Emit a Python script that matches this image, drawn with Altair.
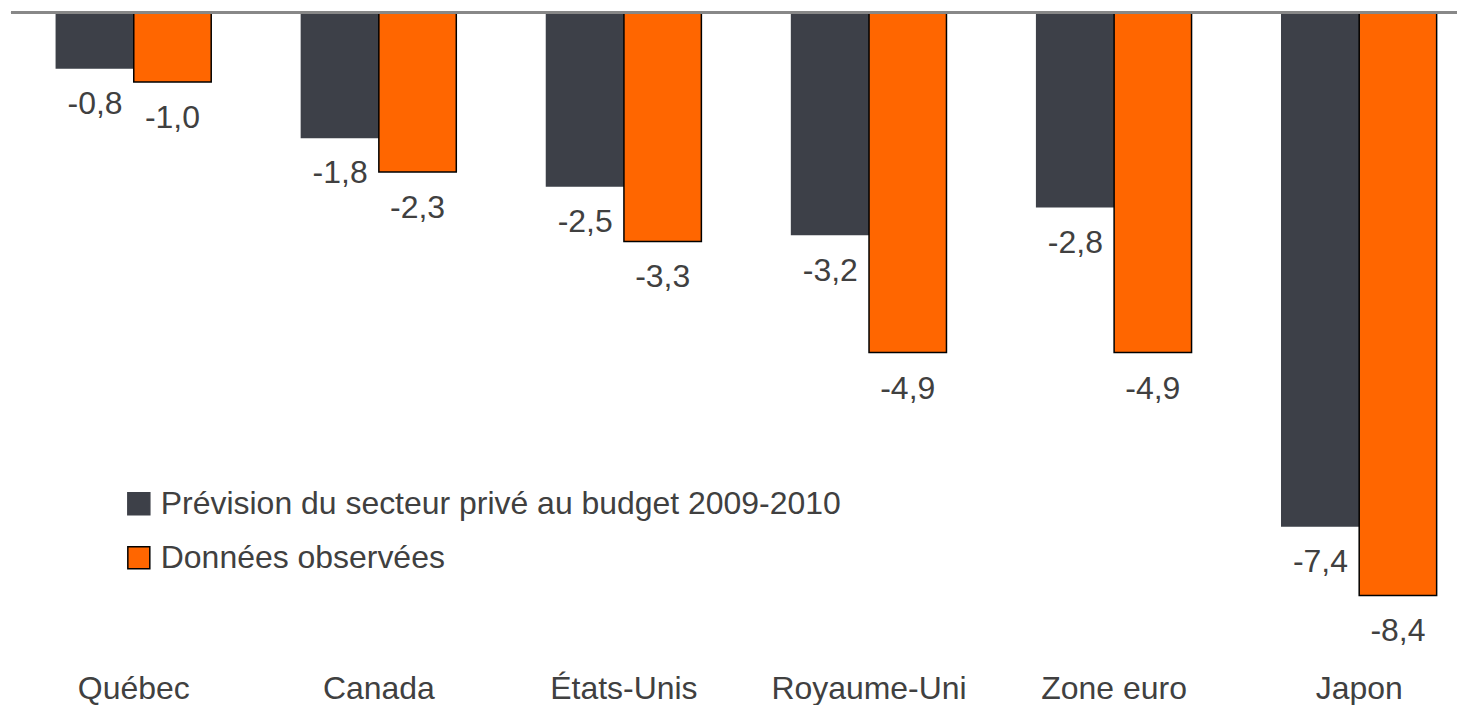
import altair as alt
import pandas as pd

categories = ["Québec", "Canada", "États-Unis", "Royaume-Uni", "Zone euro", "Japon"]
prevision = [-0.8, -1.8, -2.5, -3.2, -2.8, -7.4]
observees = [-1.0, -2.3, -3.3, -4.9, -4.9, -8.4]
series = ["Prévision du secteur privé au budget 2009-2010", "Données observées"]
fill_colors = ["#3D4048", "#FF6600"]
stroke_colors = ["#3D4048", "#000000"]

rows = []
for c, a, b in zip(categories, prevision, observees):
    rows.append({"cat": c, "series": series[0], "value": a, "label": f"{a:.1f}".replace(".", ",")})
    rows.append({"cat": c, "series": series[1], "value": b, "label": f"{b:.1f}".replace(".", ",")})
df = pd.DataFrame(rows)

FONT = "Liberation Sans"
TXT = "#404040"
FS = 32

x = alt.X(
    "cat:N", sort=categories,
    scale=alt.Scale(paddingInner=0.368, paddingOuter=0.134, align=0.69),
    axis=alt.Axis(title=None, orient="bottom", labelAngle=0, domain=False, ticks=False,
                  labelFontSize=FS, labelFont=FONT, labelColor=TXT, labelPadding=33,
                  labelLimit=1000),
)
xo = alt.XOffset("series:N", sort=series, scale=alt.Scale(paddingInner=0, paddingOuter=0))
y = alt.Y("value:Q", scale=alt.Scale(domain=[-9.05, 0], nice=False, zero=False), axis=None)

leg = alt.Legend(title=None, orient="none", legendX=112, legendY=476, symbolType="square",
                 symbolSize=484, labelFontSize=FS, labelFont=FONT, labelColor=TXT,
                 labelOffset=6, rowPadding=22, labelLimit=1000, symbolStrokeWidth=1.5)

bars = alt.Chart(df).mark_bar(strokeWidth=1.5).encode(
    x=x, xOffset=xo, y=y,
    color=alt.Color("series:N", sort=series, scale=alt.Scale(domain=series, range=fill_colors), legend=leg),
    stroke=alt.Stroke("series:N", sort=series, scale=alt.Scale(domain=series, range=stroke_colors), legend=leg),
)

labels = alt.Chart(df).mark_text(baseline="middle", dy=36, fontSize=FS, font=FONT, color=TXT).encode(
    x=x, xOffset=xo, y=y, text="label:N"
)

rule = alt.Chart(df).mark_rule(color="#888888", strokeWidth=2).encode(y=alt.datum(0))

chart = alt.layer(bars, labels, rule).properties(
    width=1448, height=629,
    padding={"left": 2, "top": 3, "right": 0, "bottom": 0},
).configure_view(stroke=None)

chart.save("out.html", embed_options={"renderer": "svg", "actions": False})
